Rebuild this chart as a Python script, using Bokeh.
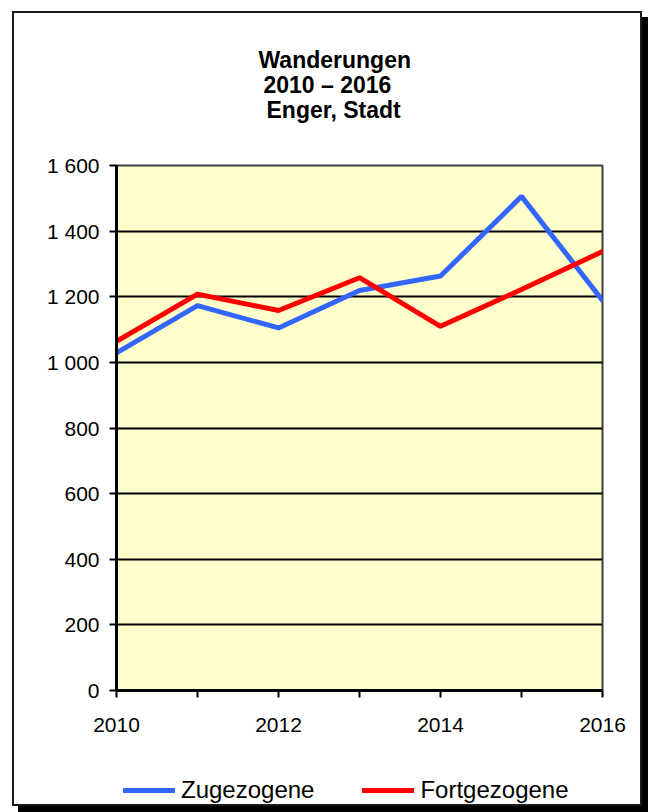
from bokeh.plotting import figure
from bokeh.layouts import column
from bokeh.models import Title, Legend, LegendItem, FixedTicker, Range1d
from bokeh.embed import file_html
from bokeh.resources import INLINE

years = [2010, 2011, 2012, 2013, 2014, 2015, 2016]
zugezogene = [1029, 1173, 1105, 1219, 1263, 1506, 1189]
fortgezogene = [1064, 1208, 1158, 1258, 1110, 1222, 1338]
y_ticks = [0, 200, 400, 600, 800, 1000, 1200, 1400, 1600]
y_tick_labels = ["0", "200", "400", "600", "800", "1 000", "1 200", "1 400", "1 600"]
x_ticks = [2010, 2011, 2012, 2013, 2014, 2015, 2016]
x_tick_labels = ["2010", "", "2012", "", "2014", "", "2016"]
title_lines = ["Wanderungen", "2010 – 2016", "Enger, Stadt"]
series_names = ["Zugezogene", "Fortgezogene"]
series_colors = ["#3366FF", "#FF0000"]

FONT = "Liberation Sans"

p = figure(
    width=626, height=729,
    output_backend="svg", toolbar_location=None,
    x_range=Range1d(2010, 2016), y_range=Range1d(0, 1600),
    min_border_left=102, min_border_right=38,
    min_border_top=152, min_border_bottom=52,
    background_fill_color="#FFFFCC", border_fill_color="white",
)
p.outline_line_color = "#404040"
p.outline_line_width = 2

# axes
p.xaxis.ticker = FixedTicker(ticks=x_ticks)
p.xaxis.major_label_overrides = {t: l for t, l in zip(x_ticks, x_tick_labels)}
p.yaxis.ticker = FixedTicker(ticks=y_ticks)
p.yaxis.major_label_overrides = {t: l for t, l in zip(y_ticks, y_tick_labels)}
for ax in (p.xaxis, p.yaxis):
    ax.axis_line_color = "black"
    ax.axis_line_width = 3
    ax.major_tick_line_color = "black"
    ax.major_tick_line_width = 2
    ax.major_tick_out = 7
    ax.major_tick_in = 0
    ax.minor_tick_line_color = None
    ax.major_label_text_font = FONT
    ax.major_label_text_font_size = "21px"
    ax.major_label_text_color = "black"
p.xaxis.major_label_standoff = 20
p.yaxis.major_label_standoff = 10

p.xgrid.grid_line_color = None
p.ygrid.grid_line_color = "black"
p.ygrid.grid_line_width = 2

p.line(years, zugezogene, line_color=series_colors[0], line_width=5, line_cap="round")
p.line(years, fortgezogene, line_color=series_colors[1], line_width=5, line_cap="round")

# spacer between frame and title block
p.add_layout(Title(text=" ", text_font_size="1px", standoff=41), "above")
# title lines, stacked above the frame (last added is outermost)
offsets = [142, 147, 150]
standoffs = [-2, -3, -3]
for i in (2, 1, 0):
    p.add_layout(Title(
        text=title_lines[i], align="left", offset=offsets[i], standoff=standoffs[i],
        text_font=FONT, text_font_style="bold", text_font_size="23px",
        text_color="black", text_line_height=1.0,
    ), "above")

# legend strip below the chart (its series lie outside its own ranges)
p2 = figure(
    width=626, height=62,
    output_backend="svg", toolbar_location=None,
    x_range=Range1d(0, 1), y_range=Range1d(0, 1),
    min_border=0, x_axis_location=None, y_axis_location=None,
    background_fill_color="white", border_fill_color="white",
)
p2.outline_line_color = None
p2.grid.visible = False
l1 = p2.line(years, zugezogene, line_color=series_colors[0], line_width=5, line_cap="round")
l2 = p2.line(years, fortgezogene, line_color=series_colors[1], line_width=5, line_cap="round")
legend = Legend(
    items=[LegendItem(label=series_names[0], renderers=[l1]),
           LegendItem(label=series_names[1], renderers=[l2])],
    orientation="horizontal", location=(7, 0), margin=0,
    border_line_color=None, background_fill_alpha=0,
    padding=0, spacing=48, label_standoff=6,
    glyph_width=52, glyph_height=20, label_height=20,
    label_text_font=FONT, label_text_font_size="24px", label_text_color="black",
)
p2.add_layout(legend, "center")

layout = column(
    p, p2, spacing=0, margin=(11, 0, 0, 12),
    styles={"border": "2px solid #1a1a1a", "box-shadow": "6px 6px 0 #000000",
            "background-color": "white"},
)

open("out.html", "w").write(file_html(layout, INLINE))
